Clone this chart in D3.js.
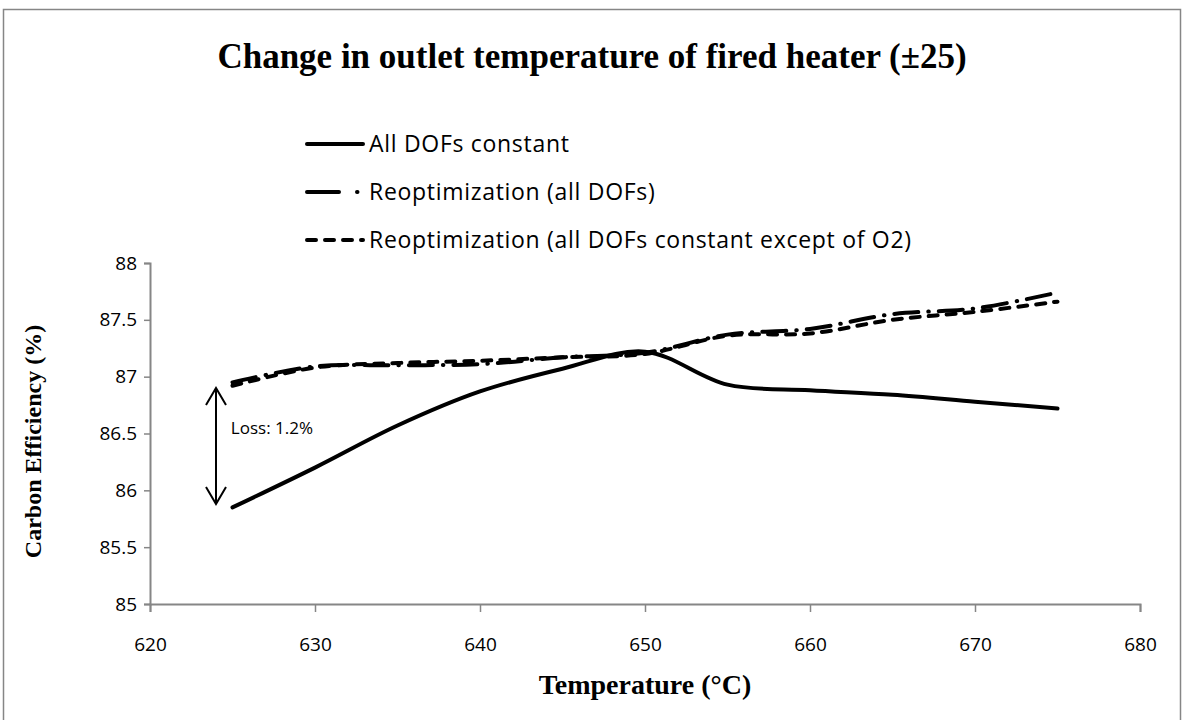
<!DOCTYPE html>
<html>
<head>
<meta charset="utf-8">
<script src="https://cdn.jsdelivr.net/npm/d3@7"></script>
<style>
  body { margin: 0; background: #fff; }
</style>
</head>
<body>
<div id="chart"></div>
<script>
// data
const temps = [625, 630, 635, 640, 645, 650, 655, 660, 665, 670, 675];
const allConstant = [85.85, 86.2, 86.57, 86.87, 87.07, 87.22, 86.93, 86.88, 86.84, 86.78, 86.72];
const reoptAll = [86.95, 87.09, 87.1, 87.11, 87.17, 87.21, 87.37, 87.42, 87.55, 87.6, 87.74];
const reoptO2 = [86.92, 87.08, 87.12, 87.14, 87.17, 87.2, 87.36, 87.38, 87.5, 87.57, 87.66];
const xTicks = [620, 630, 640, 650, 660, 670, 680];
const yTicks = [85, 85.5, 86, 86.5, 87, 87.5, 88];
const seriesNames = ["All DOFs constant", "Reoptimization (all DOFs)", "Reoptimization (all DOFs constant except of O2)"];
const lossText = "Loss: 1.2%";

const svgwidth = 1184;
const svgheight = 720;

// plot area
var margin = {top: 263, right: 44, bottom: 116, left: 150};
var width = svgwidth - margin.left - margin.right;
var height = svgheight - margin.top - margin.bottom;

var svg = d3.select("#chart")
  .append("svg")
  .attr("width", svgwidth)
  .attr("height", svgheight);

// outer frame
svg.append("rect")
  .attr("x", 3.5).attr("y", 9.5)
  .attr("width", 1177).attr("height", 720)
  .attr("fill", "none")
  .attr("stroke", "#868686")
  .attr("stroke-width", 1.5);

// title
svg.append("text")
  .attr("x", 592).attr("y", 68)
  .attr("text-anchor", "middle")
  .style("font-family", "'Liberation Serif', 'Times New Roman', serif")
  .style("font-weight", "bold")
  .style("font-size", "35px")
  .text("Change in outlet temperature of fired heater (\u00b125)");

var chart = svg.append("g")
  .attr("transform", `translate(${margin.left}, ${margin.top})`);

var x = d3.scaleLinear().domain([620, 680]).range([0, width]);
var y = d3.scaleLinear().domain([85, 88]).range([height, 0]);

// axes
var bottom = d3.axisBottom(x).tickValues(xTicks).tickSize(8).tickPadding(26);
var left = d3.axisLeft(y).tickValues(yTicks).tickSize(6).tickPadding(7)
  .tickFormat(d3.format(""));

var gx = chart.append("g")
  .attr("transform", `translate(0, ${height})`)
  .call(bottom);
var gy = chart.append("g").call(left);

[gx, gy].forEach(function(g) {
  g.select(".domain").attr("stroke", "#868686").attr("stroke-width", 2);
  g.selectAll(".tick line").attr("stroke", "#868686").attr("stroke-width", 1.5);
  g.selectAll(".tick text")
    .attr("fill", "#000")
    .style("font-family", "'Open Sans', sans-serif")
    .style("font-size", "19px");
});

// axis titles
svg.append("text")
  .attr("x", margin.left + width / 2).attr("y", 694)
  .attr("text-anchor", "middle")
  .style("font-family", "'Liberation Serif', 'Times New Roman', serif")
  .style("font-weight", "bold")
  .style("font-size", "28px")
  .text("Temperature (\u00b0C)");

svg.append("text")
  .attr("transform", `translate(41, ${margin.top + height / 2 + 8}) rotate(-90)`)
  .attr("text-anchor", "middle")
  .style("font-family", "'Liberation Serif', 'Times New Roman', serif")
  .style("font-weight", "bold")
  .style("font-size", "24px")
  .text("Carbon Efficiency (%)");

// series
var series = [
  {name: seriesNames[0], values: allConstant, dash: null},
  {name: seriesNames[1], values: reoptAll, dash: "24,10,0.5,10"},
  {name: seriesNames[2], values: reoptO2, dash: "9,9"}
];

var line = d3.line()
  .x(d => x(d[0]))
  .y(d => y(d[1]))
  .curve(d3.curveCatmullRom.alpha(0.5));

series.forEach(function(s) {
  chart.append("path")
    .datum(temps.map((t, i) => [t, s.values[i]]))
    .attr("d", line)
    .attr("fill", "none")
    .attr("stroke", "#000")
    .attr("stroke-width", 4)
    .attr("stroke-linecap", "round")
    .attr("stroke-dasharray", s.dash);
});

// legend
var legend = svg.append("g");
series.forEach(function(s, i) {
  var ly = 144 + i * 48;
  legend.append("line")
    .attr("x1", 307).attr("x2", 363)
    .attr("y1", ly).attr("y2", ly)
    .attr("stroke", "#000")
    .attr("stroke-width", 4)
    .attr("stroke-linecap", "round")
    .attr("stroke-dasharray", i == 1 ? "32,18,0.5,20" : s.dash);
  legend.append("text")
    .attr("x", 369).attr("y", ly)
    .attr("dy", "0.35em")
    .style("font-family", "'Open Sans', sans-serif")
    .style("font-size", "23px")
    .style("letter-spacing", "0.7px")
    .text(s.name);
});

// loss annotation: double arrow between the two curves at the first point
var ax = x(624);
var yTop = y(86.9), yBot = y(85.88);
var arrow = chart.append("g")
  .attr("stroke", "#000")
  .attr("stroke-width", 2)
  .attr("fill", "none");
arrow.append("line").attr("x1", ax).attr("x2", ax).attr("y1", yTop).attr("y2", yBot);
arrow.append("path").attr("d", `M${ax - 10},${yTop + 17} L${ax},${yTop} L${ax + 10},${yTop + 17}`);
arrow.append("path").attr("d", `M${ax - 10},${yBot - 17} L${ax},${yBot} L${ax + 10},${yBot - 17}`);

chart.append("text")
  .attr("x", x(624.9)).attr("y", y(86.55))
  .attr("dy", "0.35em")
  .style("font-family", "'Open Sans', sans-serif")
  .style("font-size", "17px")
  .text(lossText);
</script>
</body>
</html>
